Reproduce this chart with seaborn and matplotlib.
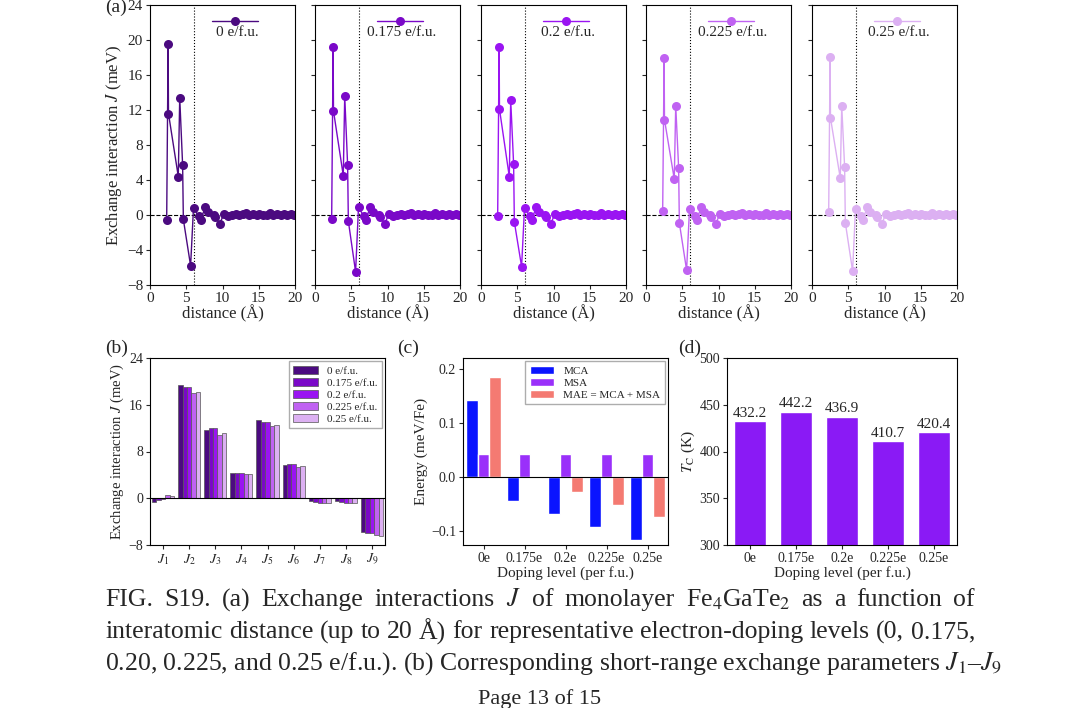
import numpy as np
import pandas as pd
import matplotlib
matplotlib.use("Agg")
import matplotlib.pyplot as plt
import seaborn as sns

sns.set_style("ticks")
plt.rcParams['font.family'] = ['Liberation Serif', 'DejaVu Serif']
plt.rcParams['mathtext.fontset'] = 'stix'
plt.rcParams['axes.linewidth'] = 0.8

# ── Données ─────────────────────────────────────────────────
dopings = ["0 e/f.u.", "0.175 e/f.u.", "0.2 e/f.u.", "0.225 e/f.u.", "0.25 e/f.u."]
colors = ["#4b0a80", "#7a08c8", "#9a14f2", "#c062f2", "#dcb0f2"]

distance = [2.3, 2.5, 2.55, 3.9, 4.1, 4.5, 4.6, 5.6, 6.0, 6.7, 7.0, 7.6, 8.0, 8.8, 9.0,
            9.6, 10.2, 10.8, 11.3, 11.8, 12.3, 12.8, 13.2, 13.7, 14.2, 14.7, 15.1,
            15.6, 16.1, 16.6, 17.0, 17.5, 18.0, 18.5, 18.9, 19.4, 19.9]
tail = [-0.1, -0.6, 0.9, 0.4, 0.0, -0.2, -1.0, 0.1, -0.1, 0.0, 0.1, 0.0, 0.1, 0.2,
        0.0, 0.1, 0.0, 0.1, 0.0, 0.0, 0.2, 0.0, 0.1, 0.0, 0.1, 0.0, 0.1, 0.0]
head_0 = [-0.6, 19.5, 11.6, 4.4, 13.4, 5.7, -0.5, -5.8, 0.8]
head_0175 = [-0.4, 19.2, 11.9, 4.5, 13.6, 5.7, -0.7, -6.5, 0.9]
head_02 = [-0.1, 19.2, 12.1, 4.4, 13.1, 5.8, -0.8, -5.9, 0.8]
head_0225 = [0.5, 18.0, 10.9, 4.1, 12.5, 5.4, -0.9, -6.3, 0.7]
head_025 = [0.3, 18.1, 11.1, 4.2, 12.5, 5.5, -0.9, -6.4, 0.7]
heads = [head_0, head_0175, head_02, head_0225, head_025]

j_labels = [f"$J_{i}$" for i in range(1, 10)]
j_0 = [-0.6, 19.4, 11.6, 4.4, 13.4, 5.7, -0.5, -0.5, -5.8]
j_0175 = [-0.3, 19.1, 12.0, 4.4, 13.0, 5.8, -0.7, -0.7, -6.0]
j_02 = [-0.1, 19.1, 12.0, 4.4, 13.0, 5.8, -0.8, -0.8, -6.0]
j_0225 = [0.5, 18.0, 10.9, 4.1, 12.3, 5.4, -0.8, -0.8, -6.3]
j_025 = [0.3, 18.2, 11.1, 4.1, 12.5, 5.5, -0.8, -0.8, -6.4]

levels = ["0e", "0.175e", "0.2e", "0.225e", "0.25e"]
mca = [0.143, -0.043, -0.068, -0.092, -0.115]
msa = [0.042, 0.042, 0.042, 0.042, 0.042]
mae = [0.185, -0.002, -0.027, -0.051, -0.073]
tc = [432.2, 442.2, 436.9, 410.7, 420.4]

fig = plt.figure(figsize=(10.8, 7.08), dpi=100)

def box(x0, y0, x1, y1):
    return [x0 / 1080, 1 - y1 / 708, (x1 - x0) / 1080, (y1 - y0) / 708]

def style(ax):
    ax.tick_params(direction='out', labelsize=11, length=3, width=0.8, pad=2)
    for s in ax.spines.values():
        s.set_visible(True)
        s.set_color('black')

# ── (a) ─────────────────────────────────────────────────────
xs = [150, 315, 481, 646, 812]
for k in range(5):
    ax = fig.add_axes(box(xs[k], 5, xs[k] + 145, 285))
    df = pd.DataFrame({"d": distance, "J": heads[k] + tail})
    sns.lineplot(data=df, x="d", y="J", sort=False, color=colors[k], marker="o",
                 markersize=6.5, markeredgewidth=0, lw=1, ax=ax, label=" ")
    ax.axhline(0, ls='--', color='black', lw=0.8, zorder=0)
    ax.axvline(6, ls=':', color='black', lw=0.8, zorder=0)
    ax.set_xlim(0, 20)
    ax.set_ylim(-8, 24)
    ax.set_xticks([0, 5, 10, 15, 20])
    ax.set_yticks(range(-8, 25, 4))
    ax.set_xlabel("distance (Å)", fontsize=12, labelpad=0)
    if k == 0:
        ax.set_ylabel("Exchange interaction $J$ (meV)", fontsize=12, labelpad=2)
    else:
        ax.set_ylabel("")
        ax.set_yticklabels([])
    ax.legend(loc='upper center', frameon=False, fontsize=11, handlelength=3,
              handletextpad=0, bbox_to_anchor=(0.6, 1.01))
    ax.text(0.6, 0.9, dopings[k], transform=ax.transAxes, ha='center',
            va='center', fontsize=11)
    style(ax)
fig.text(105 / 1080, 1 - 16 / 708, "(a)", fontsize=14, va='bottom')

# ── (b) ─────────────────────────────────────────────────────
axb = fig.add_axes(box(150, 358, 385, 545))
dfb = pd.DataFrame({"J": j_labels * 5,
                    "val": j_0 + j_0175 + j_02 + j_0225 + j_025,
                    "dop": sum([[d] * 9 for d in dopings], [])})
sns.barplot(data=dfb, x="J", y="val", hue="dop", palette=colors, ax=axb,
            edgecolor='#555555', linewidth=0.5, width=0.85, saturation=1)
axb.axhline(0, color='black', lw=0.8)
axb.set_ylim(-8, 24)
axb.set_yticks([-8, 0, 8, 16, 24])
axb.set_xlabel("")
axb.set_ylabel("Exchange interaction $J$ (meV)", fontsize=10.5, labelpad=2)
axb.legend(loc='upper right', fontsize=8, frameon=True, fancybox=False,
           edgecolor='#999999', handlelength=2.2, borderaxespad=0.3, labelspacing=0.2)
style(axb)
axb.tick_params(labelsize=10)
fig.text(105 / 1080, 1 - 357 / 708, "(b)", fontsize=14, va='bottom')

# ── (c) ─────────────────────────────────────────────────────
axc = fig.add_axes(box(463, 358, 668, 545))
dfc = pd.DataFrame({"lvl": levels * 3, "E": mca + msa + mae,
                    "kind": ["MCA"] * 5 + ["MSA"] * 5 + ["MAE = MCA + MSA"] * 5})
sns.barplot(data=dfc, x="lvl", y="E", hue="kind", saturation=1,
            palette=["#0a14ff", "#9a30fa", "#f47a72"], ax=axc, width=0.85)
axc.axhline(0, color='black', lw=0.8)
axc.set_ylim(-0.125, 0.22)
axc.set_yticks([-0.1, 0.0, 0.1, 0.2])
axc.set_xlabel("Doping level (per f.u.)", fontsize=11, labelpad=1)
axc.set_ylabel("Energy (meV/Fe)", fontsize=11, labelpad=2)
axc.legend(loc='upper right', fontsize=8, frameon=True, fancybox=False,
           edgecolor='#999999', handlelength=2.2, borderaxespad=0.3, labelspacing=0.2)
style(axc)
axc.tick_params(labelsize=10)
fig.text(397 / 1080, 1 - 357 / 708, "(c)", fontsize=14, va='bottom')

# ── (d) ─────────────────────────────────────────────────────
axd = fig.add_axes(box(727, 358, 957, 545))
dfd = pd.DataFrame({"lvl": levels, "Tc": tc})
sns.barplot(data=dfd, x="lvl", y="Tc", color="#8a1af5", ax=axd, width=0.7, saturation=1)
for i, v in enumerate(tc):
    axd.text(i, v + 2, f"{v:.1f}", ha='center', va='bottom', fontsize=11)
axd.set_ylim(300, 500)
axd.set_yticks(range(300, 501, 50))
axd.set_xlabel("Doping level (per f.u.)", fontsize=11, labelpad=1)
axd.set_ylabel("$T_{\\mathrm{C}}$ (K)", fontsize=11, labelpad=2)
style(axd)
axd.tick_params(labelsize=10)
fig.text(678 / 1080, 1 - 357 / 708, "(d)", fontsize=14, va='bottom')

# ── Légende de la figure (justifiée) ────────────────────────
cap = ["FIG. S19. (a) Exchange interactions $J$ of monolayer Fe$_4$GaTe$_2$ as a function of",
       "interatomic distance (up to 20 Å) for representative electron-doping levels (0, 0.175,",
       "0.20, 0.225, and 0.25 e/f.u.). (b) Corresponding short-range exchange parameters $J_1$–$J_9$"]
left, right = 105, 975
renderer = fig.canvas.get_renderer()
for i, line in enumerate(cap):
    y = 1 - (600 + 32 * i) / 708
    if i == len(cap) - 1:
        fig.text(left / 1080, y, line, fontsize=18.5, va='center')
        continue
    words = line.split(" ")
    texts = [fig.text(0, y, w, fontsize=18.5, va='center') for w in words]
    widths = [t.get_window_extent(renderer).width for t in texts]
    gap = (right - left - sum(widths)) / (len(words) - 1)
    x = left
    for t, w in zip(texts, widths):
        t.set_x(x / 1080)
        x += w + gap
fig.text(0.5, 0.012, "Page 13 of 15", fontsize=16, ha='center', va='center')

plt.savefig("out.png", dpi=100)
